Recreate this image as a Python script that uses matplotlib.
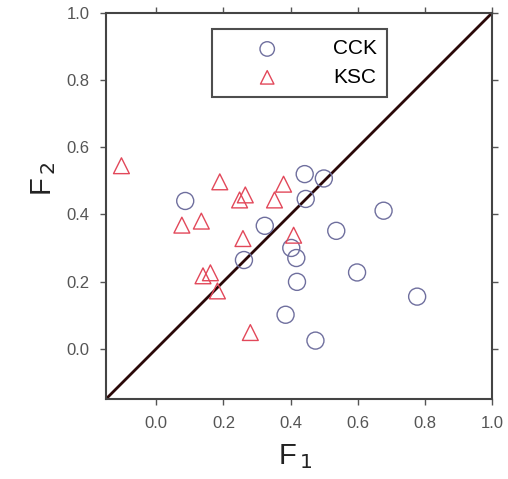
import matplotlib
matplotlib.use("Agg")
import matplotlib.pyplot as plt

plt.rcParams['font.family'] = ['Liberation Sans', 'DejaVu Sans']

cck_x = [0.442, 0.499, 0.445, 0.086, 0.677, 0.323, 0.536, 0.402, 0.417, 0.261,
         0.419, 0.598, 0.777, 0.385, 0.474]
cck_y = [0.520, 0.507, 0.446, 0.440, 0.411, 0.366, 0.351, 0.300, 0.270, 0.264,
         0.199, 0.227, 0.155, 0.101, 0.024]
ksc_x = [-0.104, 0.189, 0.379, 0.265, 0.248, 0.352, 0.076, 0.134, 0.258, 0.409,
         0.139, 0.161, 0.182, 0.280]
ksc_y = [0.545, 0.497, 0.490, 0.458, 0.443, 0.443, 0.368, 0.380, 0.328, 0.338,
         0.217, 0.226, 0.172, 0.048]
ticks = [0.0, 0.2, 0.4, 0.6, 0.8, 1.0]
lim = [-0.15, 1.0]

fig = plt.figure(figsize=(5.08, 4.79), dpi=100)
ax = fig.add_axes([106/508, 1-399/479, 386/508, 386/479])

ax.plot(lim, lim, color='#2a0808', lw=2.0, zorder=1)
ax.scatter(cck_x, cck_y, s=150, facecolors='none', edgecolors='#6f6f9e', linewidths=1.0,
           marker='o', label='CCK', zorder=3)
ax.scatter(ksc_x, ksc_y, s=130, facecolors='none', edgecolors='#e2485a', linewidths=1.0,
           marker='^', label='KSC', zorder=3)

ax.set_xlim(lim)
ax.set_ylim(lim)
ax.set_xticks(ticks)
ax.set_yticks(ticks)
ax.set_xticklabels([f"{t:.1f}" for t in ticks])
ax.set_yticklabels([f"{t:.1f}" for t in ticks])
ax.tick_params(direction='out', length=4, width=1, color='#555555',
               top=True, right=True, labelsize=12, labelcolor='#555555', pad=8)
for s in ax.spines.values():
    s.set_color('#444444')
    s.set_linewidth(1.5)

ax.set_xlabel(r'F$_{\,1}$', fontsize=21, color='#222222')
ax.set_ylabel(r'F$_{\,2}$', fontsize=21, color='#222222')
ax.xaxis.set_label_coords(0.49, -0.112)
ax.yaxis.set_label_coords(-0.125, 0.57)

leg = ax.legend(loc='upper left', bbox_to_anchor=((212-106)/386, (399-29)/386),
                fontsize=15, frameon=True, fancybox=False, edgecolor='#222222',
                handlelength=4.3, handletextpad=1.0, borderpad=0.5, labelspacing=0.45,
                markerscale=0.85, borderaxespad=0)
leg.get_frame().set_linewidth(1.5)

fig.savefig('out.png', dpi=100)
